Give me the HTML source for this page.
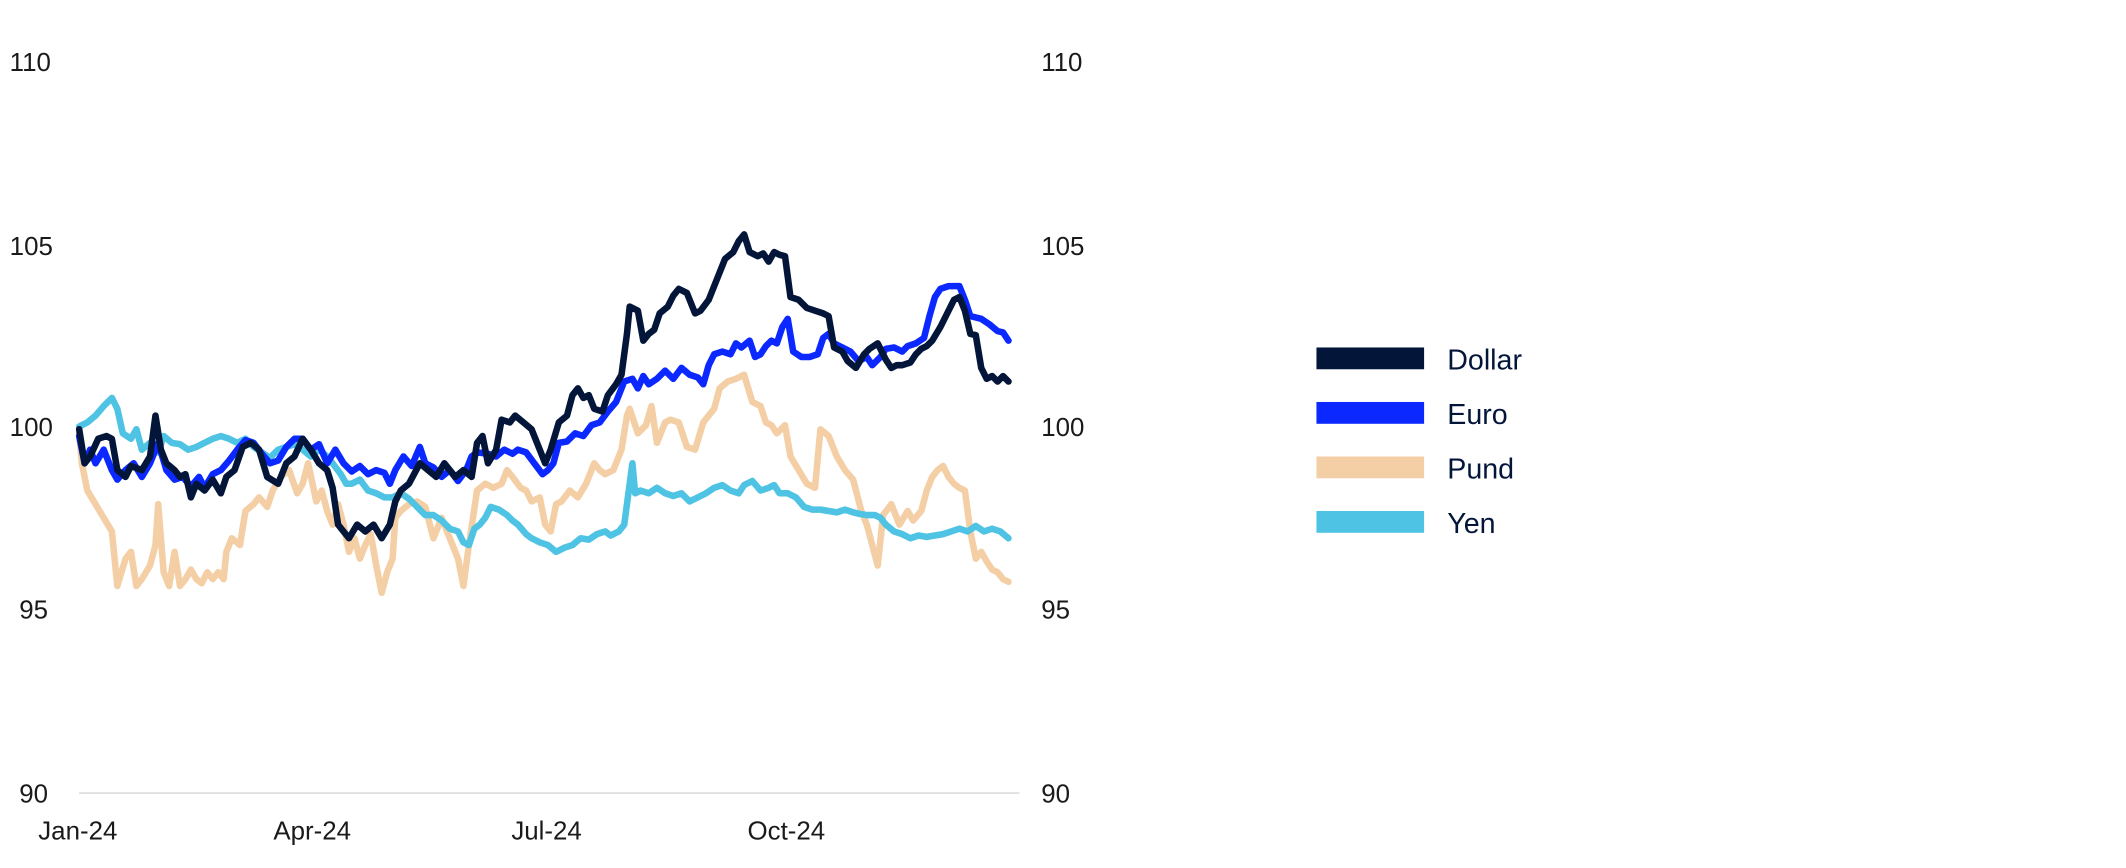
<!DOCTYPE html>
<html><head><meta charset="utf-8"><style>
html,body{margin:0;padding:0;background:#fff;}
svg{display:block;}
text{font-family:"Liberation Sans",sans-serif;}
</style></head><body>
<svg width="2126" height="868" viewBox="0 0 1560 637" xmlns="http://www.w3.org/2000/svg">
<rect width="1560" height="637" fill="#fff"/>
<g font-size="19" fill="#1a1a1a">
<text x="7" y="52">110</text><text x="7" y="187">105</text><text x="7" y="320">100</text><text x="14" y="454">95</text><text x="14" y="589">90</text>
<text x="764" y="52">110</text><text x="764" y="187">105</text><text x="764" y="320">100</text><text x="764" y="454">95</text><text x="764" y="589">90</text>
<text x="57" y="616" text-anchor="middle">Jan-24</text>
<text x="229" y="616" text-anchor="middle">Apr-24</text>
<text x="401" y="616" text-anchor="middle">Jul-24</text>
<text x="577" y="616" text-anchor="middle">Oct-24</text>
</g>
<line x1="58" y1="582" x2="748" y2="582" stroke="#dcdcdc" stroke-width="1.2"/>
<g fill="none" stroke-width="4.8" stroke-linejoin="round" stroke-linecap="round">
<polyline stroke="#f4cfa6" points="58,318 60,340 64,360 70,370 76,380 82,390 86,430 92,410 96,405 100,430 104,425 110,415 114,400 116,370 120,420 124,430 128,405 132,430 136,425 140,418 144,425 148,428 152,420 156,425 160,420 164,425 166,405 170,395 176,400 180,375 186,370 190,365 196,372 200,360 206,350 212,345 218,362 222,355 226,340 232,368 236,360 240,375 244,385 248,370 252,385 256,405 260,395 264,410 268,400 272,392 276,415 280,435 284,420 288,410 290,380 294,375 300,370 306,368 312,372 318,395 324,380 330,395 336,410 340,430 344,400 350,360 356,355 362,358 368,355 372,345 376,350 382,358 386,360 390,368 396,365 400,385 404,390 408,370 412,368 418,360 424,365 430,355 436,340 440,345 444,348 450,345 456,330 460,305 462,300 468,318 474,312 478,298 482,325 488,310 492,308 498,310 504,328 510,330 516,310 520,305 524,300 528,285 534,280 540,278 546,275 552,295 558,298 562,310 566,312 570,318 576,312 580,335 586,345 592,355 598,358 602,315 608,320 614,335 620,345 626,352 632,375 636,385 640,400 644,415 648,378 654,370 660,385 666,375 670,382 676,375 680,360 684,350 688,345 692,342 696,350 700,355 704,358 708,360 712,390 716,410 720,405 724,412 728,418 732,420 736,425 740,427"/>
<polyline stroke="#4fc3e3" points="58,313 64,310 70,305 76,298 82,292 86,300 90,318 96,322 100,315 104,330 110,325 116,332 120,320 126,325 132,326 138,330 144,328 150,325 156,322 162,320 168,322 174,325 180,322 186,328 192,332 198,336 204,330 210,328 216,326 222,330 228,335 234,330 240,335 244,340 250,348 254,355 258,355 264,352 270,360 276,362 282,365 288,365 294,362 300,366 306,372 312,378 318,378 324,382 330,388 336,390 340,398 344,400 348,388 352,385 356,380 360,372 366,374 372,378 376,382 380,385 386,392 390,395 396,398 402,400 408,405 414,402 420,400 426,395 432,396 438,392 444,390 448,393 454,390 458,385 462,355 464,340 466,362 470,360 476,362 482,358 488,362 494,364 500,362 506,368 512,365 518,362 524,358 530,356 536,360 542,362 546,356 552,353 558,360 564,358 568,356 572,362 578,362 584,365 590,372 596,374 602,374 608,375 614,376 620,374 626,376 630,377 636,378 642,378 646,380 650,385 656,390 662,392 668,395 674,393 680,394 686,393 692,392 698,390 704,388 710,390 716,386 722,390 728,388 734,390 740,395"/>
<polyline stroke="#0a28ff" points="58,320 62,340 66,330 70,340 76,330 82,345 86,352 92,345 98,340 104,350 110,340 116,325 122,345 128,352 134,350 140,357 146,350 150,358 156,348 162,345 168,338 174,330 180,323 186,325 192,333 198,340 204,338 210,328 216,322 222,322 228,330 234,326 240,340 246,330 252,340 258,346 264,342 270,348 276,345 282,347 286,355 290,345 296,335 302,342 308,328 312,340 318,343 324,350 330,345 336,353 342,345 346,335 350,332 358,333 364,335 370,330 376,333 380,330 386,332 392,340 398,348 402,345 406,340 410,325 416,324 422,318 428,320 434,312 440,310 446,302 452,295 458,280 464,278 468,285 472,276 476,282 482,278 488,272 494,278 500,270 506,275 512,277 516,282 520,268 524,260 530,258 536,260 540,252 544,255 550,250 554,262 558,260 562,254 566,250 570,252 574,240 578,234 582,258 588,262 594,262 600,260 604,248 608,245 612,252 618,255 624,258 630,265 636,262 640,268 646,262 650,256 656,255 662,258 666,254 672,252 678,248 682,232 686,218 690,212 696,210 704,210 708,220 712,232 720,234 726,238 732,243 736,244 740,250"/>
<polyline stroke="#03163a" points="58,315 62,340 66,335 72,322 78,320 82,322 86,345 92,350 96,342 104,345 110,335 114,305 118,330 122,340 128,345 132,350 136,348 140,365 144,355 150,360 156,352 162,362 166,350 172,345 178,328 184,325 190,330 196,350 204,355 210,340 216,335 222,322 228,330 234,340 240,345 244,358 248,385 256,395 262,385 268,390 274,385 280,395 286,385 290,368 294,360 300,355 308,340 314,345 320,350 326,340 334,350 340,345 346,350 350,325 354,320 358,340 364,330 368,308 374,310 378,305 384,310 390,315 396,330 400,340 404,330 410,310 416,305 420,290 424,285 428,292 432,290 436,300 442,302 446,290 452,282 456,275 460,245 462,225 468,228 472,250 476,245 480,242 484,230 490,225 494,217 498,212 504,215 510,230 514,228 520,220 526,205 532,190 538,185 542,177 546,172 550,185 556,188 560,186 564,192 568,185 572,187 576,188 580,218 586,220 592,226 598,228 604,230 608,232 612,255 618,258 622,265 628,270 634,260 638,256 644,252 650,264 654,270 658,268 662,268 668,266 672,260 676,256 680,254 684,250 690,240 696,228 700,220 704,218 708,228 712,245 716,246 720,270 724,278 728,276 732,280 736,276 740,280"/>
</g>
<rect x="966" y="255" width="79" height="16" fill="#03163a"/>
<rect x="966" y="295" width="79" height="16" fill="#0a28ff"/>
<rect x="966" y="335" width="79" height="16" fill="#f4cfa6"/>
<rect x="966" y="375" width="79" height="16" fill="#4fc3e3"/>
<g font-size="21" fill="#03163a">
<text x="1062" y="271">Dollar</text>
<text x="1062" y="311">Euro</text>
<text x="1062" y="351">Pund</text>
<text x="1062" y="391">Yen</text>
</g>
</svg>
</body></html>
